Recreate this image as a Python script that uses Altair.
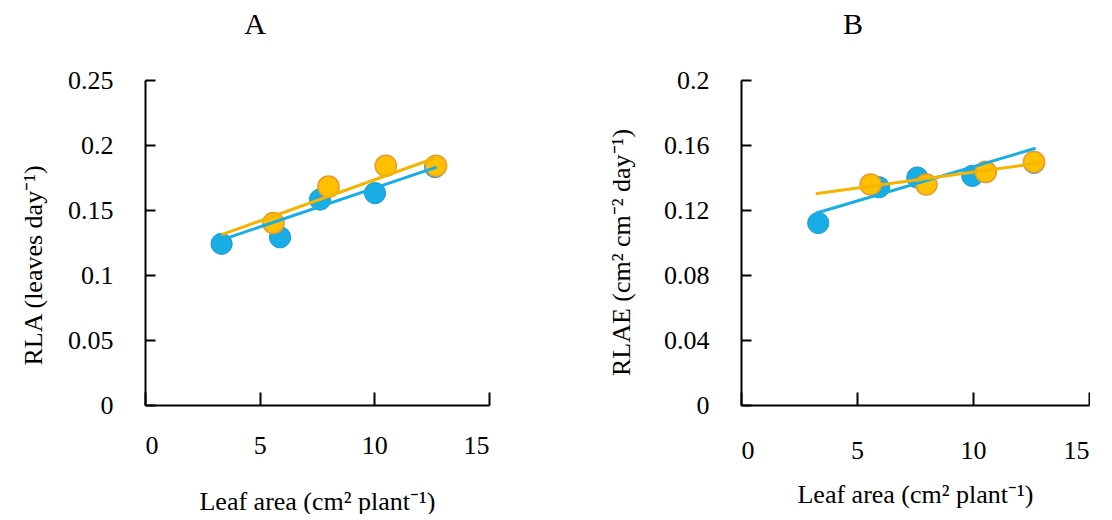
import altair as alt
import pandas as pd

# ---------------- data ----------------
series = ["S1", "S2"]

A_blue_x = [3.34, 5.89, 7.63, 10.03, 12.65]
A_blue_y = [0.124, 0.129, 0.158, 0.163, 0.183]
A_orange_x = [5.60, 8.00, 10.50, 12.69]
A_orange_y = [0.140, 0.168, 0.184, 0.184]
A_blue_line_x = [3.34, 12.71]
A_blue_line_y = [0.127, 0.183]
A_orange_line_x = [3.34, 12.65]
A_orange_line_y = [0.131, 0.190]

B_blue_x = [3.33, 5.95, 7.60, 9.97, 12.63]
B_blue_y = [0.112, 0.134, 0.140, 0.141, 0.149]
B_orange_x = [5.59, 7.99, 10.55, 12.63]
B_orange_y = [0.1357, 0.1357, 0.1434, 0.1495]
B_blue_line_x = [3.22, 12.70]
B_blue_line_y = [0.118, 0.158]
B_orange_line_x = [3.22, 12.90]
B_orange_line_y = [0.130, 0.149]

x_ticks = [0, 5, 10, 15]
A_y_ticks = [0, 0.05, 0.1, 0.15, 0.2, 0.25]
B_y_ticks = [0, 0.04, 0.08, 0.12, 0.16, 0.2]

x_title = "Leaf area (cm² plant⁻¹)"
A_y_title = "RLA (leaves  day⁻¹)"
B_y_title = "RLAE (cm² cm⁻² day⁻¹)"

FONT = "Liberation Serif"
BLUE = "#19ADE5"
GOLD = "#FFC000"
GOLD_EDGE = "#E89A2C"
GOLD_LINE = "#F5B400"

H = 325


def mk_df(bx, by, ox, oy):
    return pd.DataFrame(
        {"x": bx + ox, "y": by + oy,
         "s": [series[0]] * len(bx) + [series[1]] * len(ox)}
    )


def panel(pts, lines, yticks, ytitle, title, title_pad, title_y, W,
          xlab_pad, xtitle_pad):
    xs = alt.Scale(domain=[0, 15], nice=False)
    ys = alt.Scale(domain=[yticks[0], yticks[-1]], nice=False)
    x_main = alt.Axis(values=x_ticks, ticks=False, tickSize=0, grid=False,
                      domainColor="black", domainWidth=2, labelPadding=xlab_pad,
                      titlePadding=xtitle_pad, format="~g")
    y_main = alt.Axis(values=yticks, ticks=False, tickSize=0, grid=False,
                      domainColor="black", domainWidth=2, labelPadding=32,
                      titlePadding=title_pad, format="~g", titleY=title_y)
    x_in = alt.Axis(orient="top", offset=-H, values=x_ticks, labels=False,
                    domain=False, grid=False, tickSize=13, tickColor="black",
                    tickWidth=2, title=None)
    y_in = alt.Axis(orient="right", offset=-W, values=yticks, labels=False,
                    domain=False, grid=False, tickSize=10, tickColor="black",
                    tickWidth=2, title=None)

    blue_pts = alt.Chart(pts[pts.s == series[0]]).mark_circle(
        size=450, opacity=1, color=BLUE, stroke="#1A9AD0", strokeWidth=1
    ).encode(
        x=alt.X("x:Q", scale=xs, axis=x_main, title=x_title),
        y=alt.Y("y:Q", scale=ys, axis=y_main, title=ytitle),
    )
    gold_pts = alt.Chart(pts[pts.s == series[1]]).mark_circle(
        size=450, opacity=1, color=GOLD, stroke=GOLD_EDGE, strokeWidth=1.5
    ).encode(x=alt.X("x:Q", axis=None), y=alt.Y("y:Q", axis=None))
    blue_line = alt.Chart(lines[lines.s == series[0]]).mark_line(
        color=BLUE, strokeWidth=3
    ).encode(x=alt.X("x:Q", axis=x_in), y=alt.Y("y:Q", axis=y_in))
    gold_line = alt.Chart(lines[lines.s == series[1]]).mark_line(
        color=GOLD_LINE, strokeWidth=3
    ).encode(x=alt.X("x:Q", axis=None), y=alt.Y("y:Q", axis=None))

    return alt.layer(blue_pts, gold_pts, blue_line, gold_line).resolve_axis(
        x="independent", y="independent"
    ).properties(
        width=W, height=H,
        title=alt.TitleParams(title, dx=-62, fontSize=30, font=FONT,
                              fontWeight="normal", offset=27),
    )


A_pts = mk_df(A_blue_x, A_blue_y, A_orange_x, A_orange_y)
A_lines = mk_df(A_blue_line_x, A_blue_line_y, A_orange_line_x, A_orange_line_y)
B_pts = mk_df(B_blue_x, B_blue_y, B_orange_x, B_orange_y)
B_lines = mk_df(B_blue_line_x, B_blue_line_y, B_orange_line_x, B_orange_line_y)

pA = panel(A_pts, A_lines, A_y_ticks, A_y_title, "A", 21, 185, 344, 27, 30)
pB = panel(B_pts, B_lines, B_y_ticks, B_y_title, "B", 29, 172, 348, 32, 18)

chart = alt.hconcat(pA, pB, spacing=118).configure_view(
    stroke=None
).configure_axis(
    labelFont=FONT, titleFont=FONT, labelFontSize=26, titleFontSize=26,
    titleFontWeight="normal", labelColor="black", titleColor="black",
).properties(padding={"left": 12, "top": 2, "right": 0, "bottom": 0})

chart.save("out.html", embed_options={"renderer": "svg", "actions": False})
